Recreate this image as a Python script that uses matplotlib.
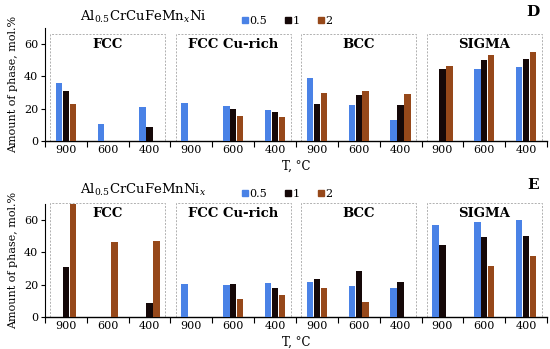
import numpy as np
import matplotlib
matplotlib.use("Agg")
import matplotlib.pyplot as plt
from matplotlib.patches import Rectangle
from matplotlib.lines import Line2D

plt.rcParams['font.family'] = ['DejaVu Serif']
plt.rcParams['mathtext.fontset'] = 'dejavuserif'

groups = ["FCC", "FCC Cu-rich", "BCC", "SIGMA"]
temps = ["900", "600", "400"]
series = ["0.5", "1", "2"]
colors = ["#4a82e6", "#150808", "#96481a"]

# Panel D (Al0.5CrCuFeMnxNi): values per group, temperature order 900/600/400
d_05 = [36, 10.7, 21,   23.8, 21.5, 19.5,   39.3, 22.4, 13,   0, 44.3, 45.7]
d_1  = [31, 0, 8.6,     0, 20, 18,          23, 28.8, 22.2,   44.9, 50.1, 50.5]
d_2  = [22.7, 0, 0,     0, 15.5, 15,        29.6, 31, 29.2,   46.6, 53, 55.3]

# Panel E (Al0.5CrCuFeMnNix)
e_05 = [0, 0, 0,        20.3, 20, 20.9,     21.7, 19.5, 17.8, 56.9, 59.1, 60.2]
e_1  = [31.2, 0, 8.8,   0, 20.5, 18,        23.4, 28.8, 21.9, 44.6, 49.7, 50.1]
e_2  = [70, 46.2, 46.8, 0, 11.4, 13.7,      18.2, 9.1, 0,     0, 31.8, 37.8]

W, H = 550, 349
fig = plt.figure(figsize=(W/100, H/100), dpi=100)

def px_axes(left, top, right, bottom):
    return fig.add_axes([left/W, 1-bottom/H, (right-left)/W, (bottom-top)/H])

def draw_panel(ax, vals, box_top, label_y, title, letter, ty):
    n = len(groups) * len(temps)
    x = np.arange(n)
    bw = 0.155
    offs = [-0.165, 0, 0.165]
    for v, c, o, s in zip(vals, colors, offs, series):
        ax.bar(x + o, v, width=bw, color=c, label=s, zorder=3)
    ax.set_xlim(-0.5, n - 0.5)
    ax.set_ylim(0, 70)
    ax.set_yticks([0, 20, 40, 60])
    ax.set_xticks(x)
    ax.set_xticklabels(temps * len(groups))
    ax.set_xticks(np.arange(n + 1) - 0.5, minor=True)
    ax.tick_params(axis='x', which='major', length=0, labelsize=8, pad=3)
    ax.tick_params(axis='x', which='minor', length=4, width=0.8, direction='out')
    ax.tick_params(axis='y', labelsize=8, length=3, width=0.8, pad=2)
    for sp in ['top', 'right']:
        ax.spines[sp].set_visible(False)
    ax.spines['left'].set_linewidth(0.8)
    ax.spines['bottom'].set_linewidth(1.0)
    for gi, g in enumerate(groups):
        x0 = gi * 3 - 0.5 + 0.12
        x1 = gi * 3 + 2.5 - 0.12
        r = Rectangle((x0, 0), x1 - x0, box_top, fill=False, ec="#b0b0b0",
                      lw=0.7, ls=(0, (2, 1.5)), zorder=1, clip_on=False)
        ax.add_patch(r)
        ax.text(gi * 3 + 1, label_y, g, ha='center', va='center',
                fontsize=9.5, fontweight='bold', zorder=4)
    ax.set_ylabel("Amount of phase, mol.%", fontsize=8, labelpad=4)
    ax.set_xlabel("T, °C", fontsize=8.5, labelpad=3)
    fig.text(143/W, 1-ty/H, title, ha='center', va='center', fontsize=9.5)
    fig.text(533/W, 1-(ty-5)/H, letter, ha='center', va='center',
             fontsize=11, fontweight='bold')
    handles = [Line2D([], [], marker='s', ls='none', color=c, markersize=4)
               for c in colors]
    fig.legend(handles, series, loc='center', ncol=3,
               bbox_to_anchor=(287/W, 1-(ty+4)/H), frameon=False,
               fontsize=8, handlelength=0.6, handletextpad=0.1,
               columnspacing=1.6)

axD = px_axes(45, 28, 547, 141)
draw_panel(axD, [d_05, d_1, d_2], 66, 59.5, r"Al$_{0.5}$CrCuFeMn$_x$Ni", "D", 17)
axE = px_axes(45, 204, 547, 317)
draw_panel(axE, [e_05, e_1, e_2], 70.5, 64, r"Al$_{0.5}$CrCuFeMnNi$_x$", "E", 190)

fig.savefig("out.png", dpi=100)
